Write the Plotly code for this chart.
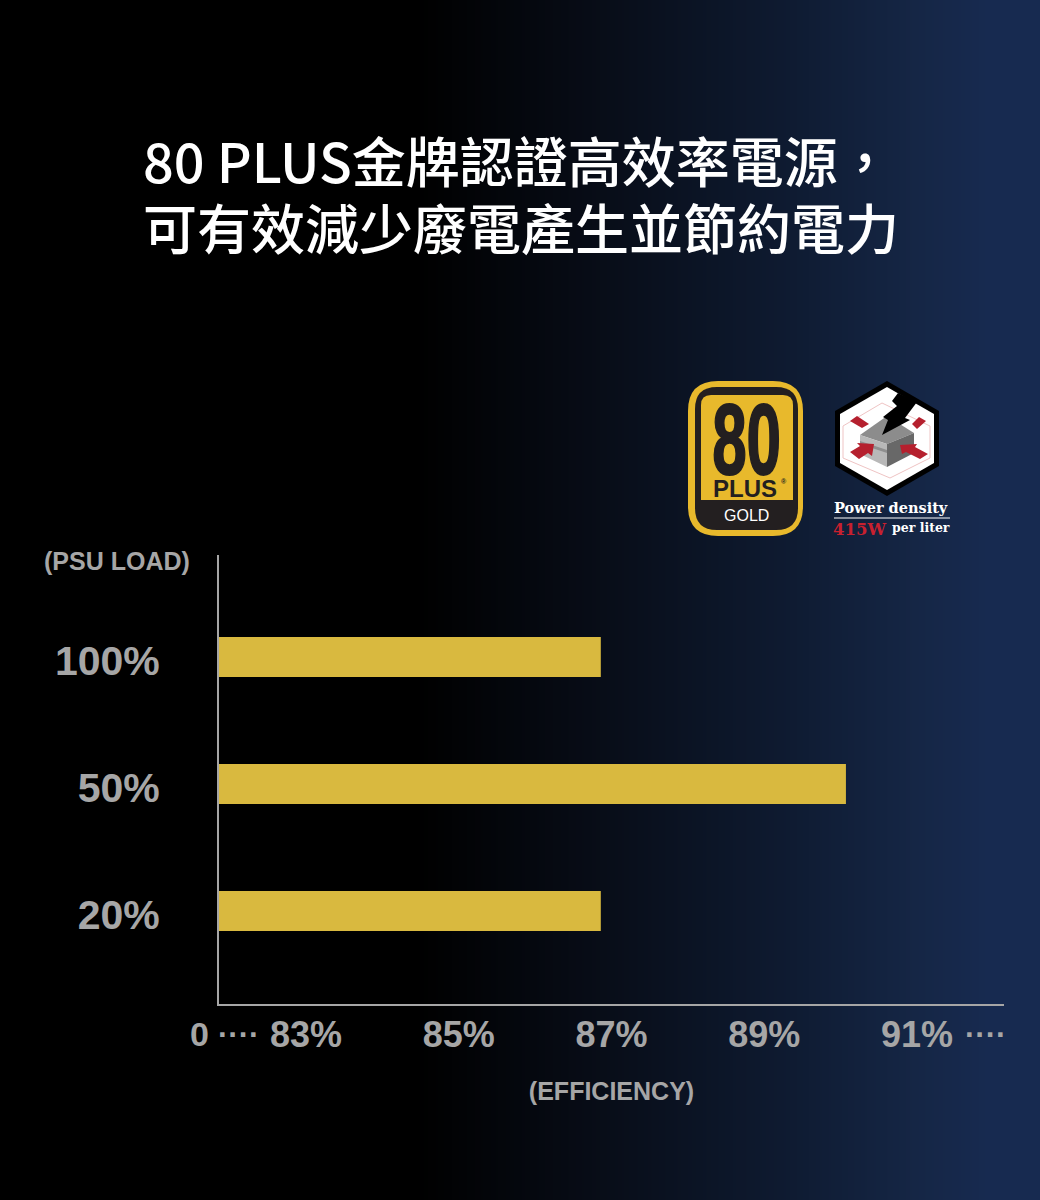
import plotly.graph_objects as go

# chart data
load_labels = ["20%", "50%", "100%"]
efficiency = [86.86, 90.07, 86.86]
tick_values = [83, 85, 87, 89, 91]
tick_labels = ["83%", "85%", "87%", "89%", "91%"]
title_lines = ["80 PLUS金牌認證高效率電源，", "可有效減少廢電產生並節約電力"]

W, H = 1040, 1200
GREY = "#a6a6a6"
YELLOW = "#e8b92c"
BAR = "#d9b93f"
RED = "#b5202e"
SANS = "Liberation Sans"
SERIF = "DejaVu Serif"
CJK = "Noto Sans CJK TC"

bg_stops = [[0, "#000000"], [0.40, "#000000"], [0.58, "#080d18"], [0.75, "#0e1a30"],
            [0.88, "#152645"], [0.95, "#172a50"], [1, "#172a50"]]

fig = go.Figure()

# background gradient, on a full page axis in pixels
fig.add_trace(go.Heatmap(x=[0, W], y=[0, H], z=[[0, 1], [0, 1]], colorscale=bg_stops, zmin=0, zmax=1,
                         zsmooth="best", showscale=False, hoverinfo="skip", xaxis="x", yaxis="y"))

fig.add_trace(go.Bar(x=efficiency, y=load_labels, orientation="h", width=0.315, marker_color=BAR,
                     marker_line_width=0, hoverinfo="skip", xaxis="x2", yaxis="y2"))


def poly(points, fill, line=None, width=0):
    path = "M " + " L ".join(f"{x} {y}" for x, y in points) + " Z"
    return dict(type="path", path=path, xref="x", yref="y", fillcolor=fill,
                line=dict(color=line or fill, width=width))


def round_rect(x0, y0, x1, y1, r, fill):
    path = (f"M {x0 + r} {y0} L {x1 - r} {y0} Q {x1} {y0} {x1} {y0 + r} L {x1} {y1 - r} Q {x1} {y1} {x1 - r} {y1} "
            f"L {x0 + r} {y1} Q {x0} {y1} {x0} {y1 - r} L {x0} {y0 + r} Q {x0} {y0} {x0 + r} {y0} Z")
    return dict(type="path", path=path, xref="x", yref="y", fillcolor=fill, line=dict(width=0))


def label(text, x, y, size, color="#ffffff", family=SANS, anchor="left", weight="normal"):
    return dict(text=text, x=x, y=y, xref="x", yref="y", showarrow=False, xanchor=anchor, yanchor="middle",
                font=dict(size=size, color=color, family=family, weight=weight))


shapes = [
    # 80 PLUS badge
    round_rect(688, 381, 803, 536, 30, YELLOW),
    round_rect(695, 387, 798, 530, 22, "#231f20"),
    round_rect(701, 395, 793, 500, 10, YELLOW),
    dict(type="rect", x0=701, x1=793, y0=488, y1=500, xref="x", yref="y", fillcolor=YELLOW, line=dict(width=0)),
    # power density hexagon
    poly([(887, 381), (939, 411), (939, 466), (887, 496), (835, 466), (835, 411)], "#000000"),
    poly([(887, 387), (934, 414), (934, 463), (887, 490), (840, 463), (840, 414)], "#ffffff"),
    poly([(843, 426), (882, 403), (930, 426), (930, 458), (890, 478), (843, 458)], "rgba(0,0,0,0)", "#efc4c4", 1),
    poly([(860, 435), (887, 416), (914, 433), (887, 444)], "#8c8c8c"),
    poly([(860, 435), (887, 444), (887, 467), (860, 454)], "#b8b8b8"),
    poly([(860, 441), (887, 450), (887, 453), (860, 444)], "#8f8f8f"),
    poly([(887, 444), (914, 433), (914, 453), (887, 467)], "#686868"),
    poly([(850, 421), (857, 416), (869, 424), (862, 428)], RED),
    poly([(912, 424), (919, 417), (926, 421), (917, 429)], RED),
    poly([(850, 452), (860, 446), (857, 443), (874, 444), (872, 456), (868, 453), (859, 459)], RED),
    poly([(900, 445), (902, 454), (906, 452), (920, 459), (928, 454), (915, 447), (917, 444)], RED),
    poly([(898, 393), (917, 402), (905, 418), (910, 420), (882, 435), (888, 420), (883, 417), (897, 406), (892, 401)],
         "#000000"),
    dict(type="line", x0=834, x1=950, y0=518, y1=518, xref="x", yref="y", line=dict(color="#ffffff", width=1)),
]

annotations = [
    label(title_lines[0], 141, 159, 54, family=CJK, weight=500),
    label(title_lines[1], 141, 226, 54, family=CJK, weight=500),
    label("(PSU LOAD)", 117, 561, 25, GREY, anchor="center", weight="bold"),
    label("0", 199, 1034, 34, GREY, anchor="center", weight="bold"),
    label("····", 238, 1034, 31, GREY, anchor="center", weight="bold"),
    label("····", 985, 1034, 31, GREY, anchor="center", weight="bold"),
    # badge text
    label("80", 746, 439, 100, "#231f20", SANS, "center", "bold"),
    label("PLUS", 745, 488, 24, "#231f20", anchor="center", weight="bold"),
    label("®", 784, 481, 7, "#231f20", anchor="center", weight="bold"),
    label("GOLD", 746, 515, 16, "#ffffff", SANS, "center"),
    label("Power density", 832, 507, 14.5, family=SERIF, weight="bold"),
    label("415W", 831, 529, 16.5, "#c8202f", SERIF, weight="bold"),
    label("per liter", 890, 527, 12.5, family=SERIF, weight="bold"),
]

fig.update_layout(
    width=W, height=H, margin=dict(l=0, r=0, t=0, b=0), showlegend=False,
    paper_bgcolor="#000000", plot_bgcolor="rgba(0,0,0,0)",
    shapes=shapes, annotations=annotations,
    xaxis=dict(domain=[0, 1], range=[0, W], visible=False, fixedrange=True),
    yaxis=dict(domain=[0, 1], range=[H, 0], visible=False, fixedrange=True),
    xaxis2=dict(domain=[219 / W, 1004 / W], range=[81.86, 92.14], anchor="y2", tickvals=tick_values,
                ticktext=tick_labels, showgrid=False, zeroline=False, showline=True, linecolor=GREY, linewidth=2,
                ticks="", ticklabelstandoff=-2, tickfont=dict(size=36, color=GREY, family=SANS, weight="bold"),
                title=dict(text="(EFFICIENCY)", standoff=28, font=dict(size=25, color=GREY, family=SANS, weight="bold"))),
    yaxis2=dict(domain=[196 / H, 645 / H], range=[-0.732, 2.803], anchor="x2", type="category",
                categoryorder="array", categoryarray=load_labels, showgrid=False, zeroline=False, showline=True,
                linecolor=GREY, linewidth=2, ticks="", ticklabelstandoff=49, ticklabelshift=4,
                tickfont=dict(size=41, color=GREY, family=SANS, weight="bold")),
)

post = """
document.body.style.margin = '0';
document.querySelectorAll('.annotation-text').forEach(function (t) {
    if (t.textContent === '80') {
        t.style.transformBox = 'fill-box';
        t.style.transformOrigin = 'center';
        t.style.transform = 'scaleX(0.62)';
        t.style.stroke = '#231f20';
        t.style.strokeWidth = '2px';
    }
});
"""

fig.write_html("out.html", config={"displayModeBar": False}, post_script=post)
